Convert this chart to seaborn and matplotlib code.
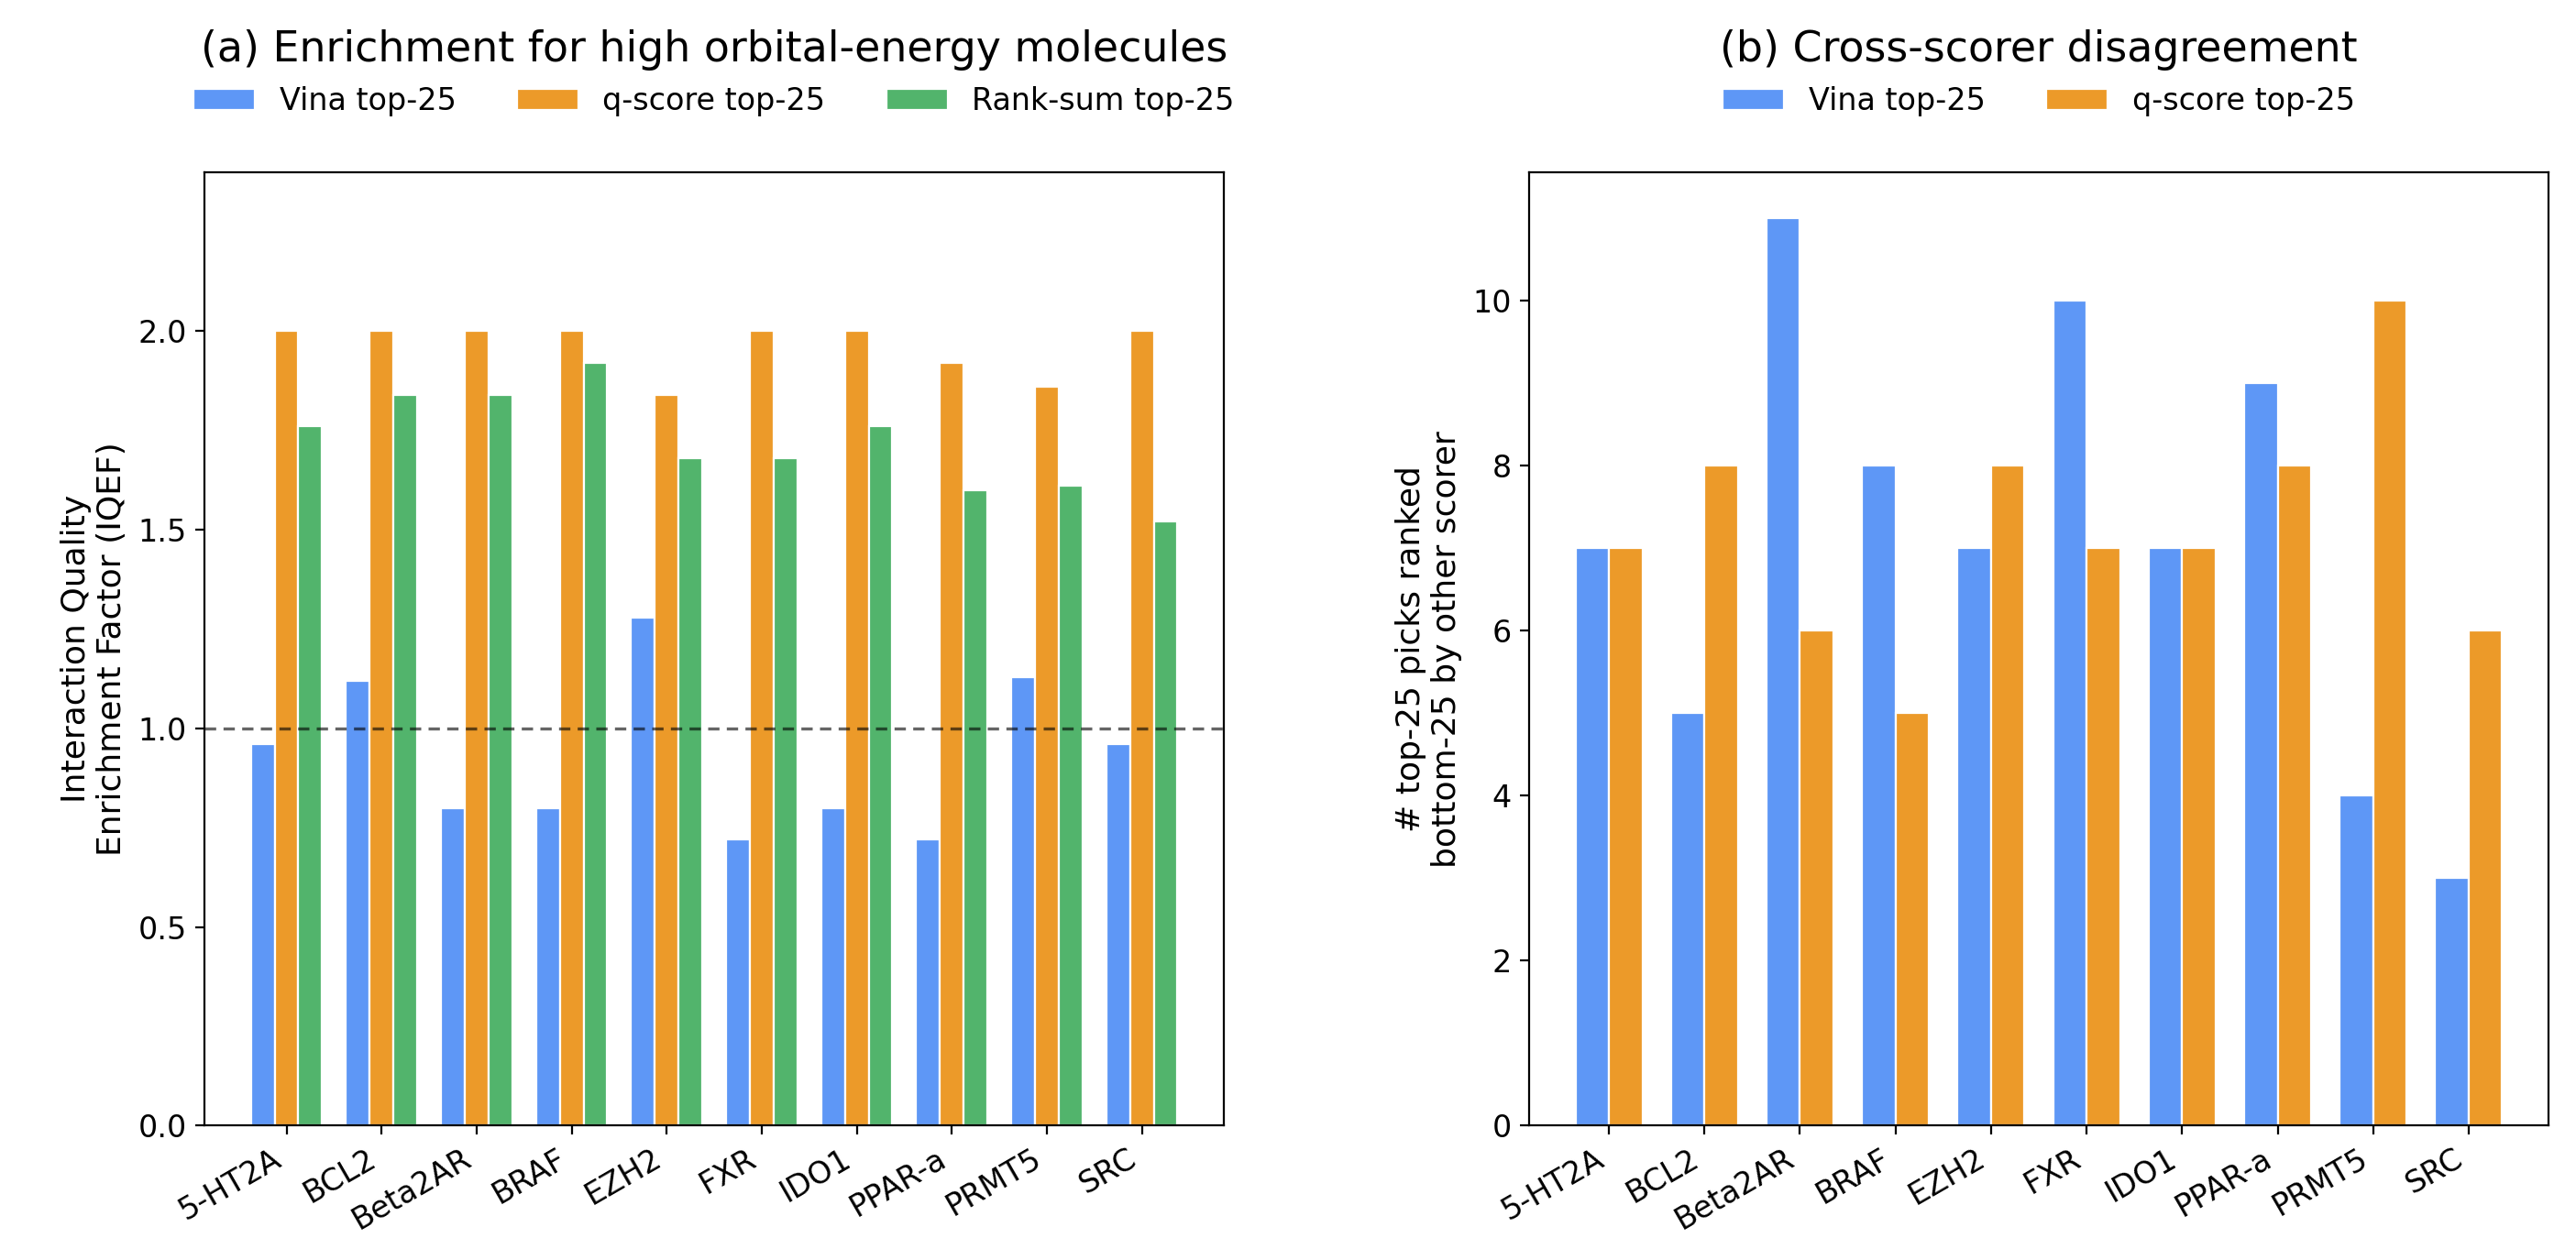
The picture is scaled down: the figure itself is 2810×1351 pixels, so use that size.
import pandas as pd
import matplotlib.pyplot as plt
import seaborn as sns

# Targets
targets = ["5-HT2A", "BCL2", "Beta2AR", "BRAF", "EZH2", "FXR", "IDO1", "PPAR-a", "PRMT5", "SRC"]

# (a) IQEF per scorer
vina_iqef = [0.96, 1.12, 0.80, 0.80, 1.28, 0.72, 0.80, 0.72, 1.13, 0.96]
qscore_iqef = [2.00, 2.00, 2.00, 2.00, 1.84, 2.00, 2.00, 1.92, 1.86, 2.00]
ranksum_iqef = [1.76, 1.84, 1.84, 1.92, 1.68, 1.68, 1.76, 1.60, 1.61, 1.52]

# (b) top-25 picks ranked bottom-25 by the other scorer
vina_disagree = [7, 5, 11, 8, 7, 10, 7, 9, 4, 3]
qscore_disagree = [7, 8, 6, 5, 8, 7, 7, 8, 10, 6]

series_a = ["Vina top-25", "q-score top-25", "Rank-sum top-25"]
series_b = ["Vina top-25", "q-score top-25"]
colors = ["#5E97F6", "#EC9A29", "#52B46C"]

df_a = pd.DataFrame({"target": targets * 3,
                     "iqef": vina_iqef + qscore_iqef + ranksum_iqef,
                     "scorer": [s for s in series_a for _ in targets]})
df_b = pd.DataFrame({"target": targets * 2,
                     "count": vina_disagree + qscore_disagree,
                     "scorer": [s for s in series_b for _ in targets]})

fig, axes = plt.subplots(1, 2, figsize=(14.05, 6.755), dpi=200)
fig.subplots_adjust(left=0.0794, right=0.9893, top=0.8608, bottom=0.0908, wspace=0.2995)

# Paneel a
ax = axes[0]
sns.barplot(data=df_a, x="target", y="iqef", hue="scorer", palette=colors[:3],
            width=0.75, edgecolor="white", linewidth=0.8, saturation=1, ax=ax)
ax.axhline(1.0, color="black", linestyle=(0, (3.7, 2.4)), linewidth=1.2, alpha=0.6)
ax.set_ylim(0, 2.4)
ax.set_xlim(-0.8625, 9.8625)
ax.set_xlabel("")
ax.set_ylabel("Interaction Quality\nEnrichment Factor (IQEF)", fontsize=13)
ax.set_title("(a) Enrichment for high orbital-energy molecules", fontsize=16.5, pad=43.5)
sns.move_legend(ax, "lower center", bbox_to_anchor=(0.5, 1.03), ncol=3,
                frameon=False, title=None, fontsize=12)

# Paneel b
ax = axes[1]
sns.barplot(data=df_b, x="target", y="count", hue="scorer", palette=colors[:2],
            width=0.7, edgecolor="white", linewidth=0.8, saturation=1, ax=ax)
ax.set_xlim(-0.835, 9.835)
ax.set_ylim(0, 11.55)
ax.set_xlabel("")
ax.set_ylabel("# top-25 picks ranked\nbottom-25 by other scorer", fontsize=13)
ax.set_title("(b) Cross-scorer disagreement", fontsize=16.5, pad=43.5)
sns.move_legend(ax, "lower center", bbox_to_anchor=(0.5, 1.03), ncol=2,
                frameon=False, title=None, fontsize=12)

for ax in axes:
    ax.tick_params(axis="y", labelsize=12)
    plt.setp(ax.get_xticklabels(), rotation=30, ha="right", fontsize=12)

plt.savefig("out.png", dpi=200)
